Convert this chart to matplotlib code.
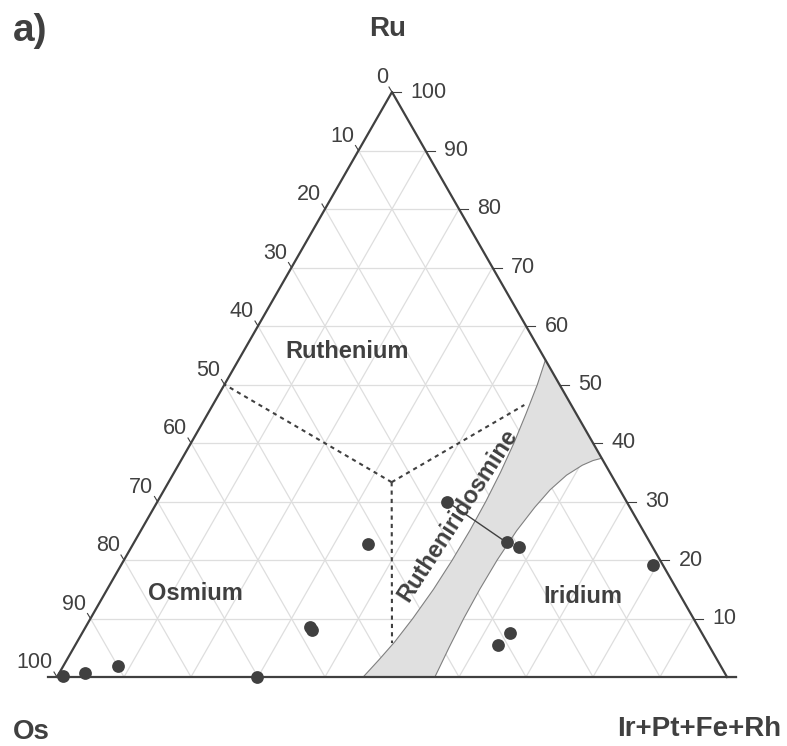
import numpy as np
import matplotlib.pyplot as plt

plt.rcParams.update({'font.family': 'Liberation Sans'})

# samples: Ru and Ir(+Pt+Fe+Rh) in at.%, Os = rest
ru = [0.2, 0.6, 1.9, 0.0, 8.6, 8.0, 22.7, 30.0, 23.0, 22.2, 19.1, 7.6, 5.4]
ir = [0.8, 3.9, 8.2, 29.9, 33.5, 34.1, 35.0, 43.2, 55.6, 57.9, 79.4, 63.8, 63.1]

# tie line between two coexisting grains (indices into the sample lists)
tie = [7, 8]

# rutheniridosmine field boundaries (Ru, Ir)
left_ru = [0.0, 3.0, 6.0, 10.0, 15.0, 20.0, 25.0, 30.0, 35.0, 40.0, 45.0, 50.0, 54.2]
left_ir = [45.7, 46.6, 47.4, 48.1, 48.7, 49.0, 49.1, 49.0, 48.7, 48.2, 47.5, 46.7, 45.8]
right_ru = [0.0, 5.0, 10.0, 15.0, 20.0, 25.0, 29.0, 32.0, 34.5, 36.2, 37.0, 37.4]
right_ir = [56.4, 56.0, 55.7, 55.6, 55.7, 56.1, 56.8, 57.6, 58.8, 60.3, 61.5, 62.6]

# dashed field borders: center -> ends (Ru, Ir)
center = (33.3, 33.3)
dash_ends = [(50.0, 0.0), (46.5, 46.5), (5.8, 47.1)]

ticks = np.arange(0, 101, 10)
dark = '#404040'
grid = '#dedede'


def tern(r, i):
    r = np.asarray(r, dtype=float)
    i = np.asarray(i, dtype=float)
    return i + r / 2, r


fig = plt.figure(figsize=(7.87, 7.46), dpi=100)
ax = fig.add_axes([0, 0, 1, 1])
# 1 unit = 6.7 px horizontally, 5.85 px vertically
ax.set_xlim(-57 / 6.7, 730 / 6.7)
ax.set_ylim(-69 / 5.85, 677 / 5.85)
ax.axis('off')

# grid
for k in ticks[1:-1]:
    ax.plot(*tern([k, k], [0, 100 - k]), color=grid, lw=0.9, zorder=1)
    ax.plot(*tern([0, 100 - k], [k, k]), color=grid, lw=0.9, zorder=1)
    ax.plot(*tern([0, 100 - k], [100 - k, 0]), color=grid, lw=0.9, zorder=1)

# rutheniridosmine field
poly_r = left_ru + right_ru[::-1]
poly_i = left_ir + right_ir[::-1]
ax.fill(*tern(poly_r, poly_i), color='#e0e0e0', lw=0, zorder=2)
ax.plot(*tern(left_ru, left_ir), color='#808080', lw=0.8, zorder=3)
ax.plot(*tern(right_ru, right_ir), color='#808080', lw=0.8, zorder=3)

# triangle
ax.plot(*tern([0, 100, 0], [100, 0, 0]), color=dark, lw=1.6, zorder=4)
ax.plot([-1.3, 101.3], [0, 0], color=dark, lw=1.6, zorder=4)

# right axis ticks: Ru
for k in ticks:
    x, y = tern(k, 100 - k)
    ax.plot([x, x + 1.4], [y, y], color=dark, lw=0.8)
    if k > 0:
        ax.text(x + 2.75, y, str(k), ha='left', va='center', fontsize=15.5, color=dark)

# left axis ticks: Os
for k in ticks:
    x, y = tern(100 - k, 0)
    ax.plot([x, x - 0.45], [y, y + 0.85], color=dark, lw=0.8)
    ax.text(x - 0.6, y + 2.45, str(k), ha='right', va='center', fontsize=15.5, color=dark)

# dashed borders
for e in dash_ends:
    ax.plot(*tern([center[0], e[0]], [center[1], e[1]]), color=dark, lw=1.5,
            ls=(0, (2, 2)), zorder=3)

# tie line and samples
ax.plot(*tern([ru[j] for j in tie], [ir[j] for j in tie]), color=dark, lw=1.0, zorder=5)
ax.plot(*tern(ru, ir), 'o', color=dark, ms=9.2, mec='none', zorder=6)

# field labels
lab = dict(color=dark, fontsize=17, fontweight='bold', ha='center', va='center')
ax.text(*tern(55.6, 15.5), 'Ruthenium', **lab)
ax.text(*tern(14.2, 13.5), 'Osmium', **lab)
ax.text(*tern(13.7, 71.6), 'Iridium', **lab)
ax.text(*tern(27.7, 46.0), 'Rutheniridosmine', rotation=57, zorder=7, **lab)

# corner labels
fig.text(388 / 787, 1 - 29 / 746, 'Ru', fontsize=20, fontweight='bold', color=dark,
         ha='center', va='center')
fig.text(31 / 787, 1 - 732 / 746, 'Os', fontsize=20, fontweight='bold', color=dark,
         ha='center', va='center')
fig.text(699 / 787, 1 - 729 / 746, 'Ir+Pt+Fe+Rh', fontsize=20, fontweight='bold',
         color=dark, ha='center', va='center')
fig.text(30 / 787, 1 - 31 / 746, 'a)', fontsize=28, fontweight='bold', color=dark,
         ha='center', va='center')

fig.savefig('out.png', dpi=100)
